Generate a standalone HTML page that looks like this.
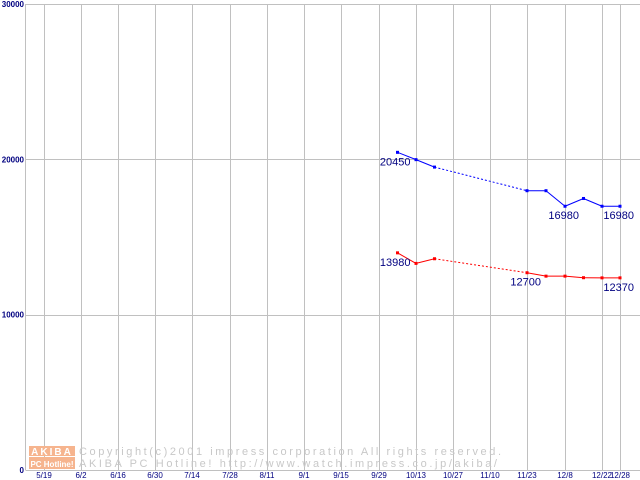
<!DOCTYPE html>
<html><head><meta charset="utf-8"><style>
body{margin:0;background:#fff;}
svg{display:block;}
text{font-family:"Liberation Sans",sans-serif;}
</style></head><body>
<svg id="chart" width="640" height="480" viewBox="0 0 640 480">
<g id="grid"></g>
<g id="wm">
  <rect x="29" y="446" width="46" height="10" fill="#f6b48e"/>
  <rect x="29" y="457" width="46" height="12" fill="#f6b48e"/>
  <text x="52" y="455" font-size="10" fill="#fff" text-anchor="middle" font-weight="bold" letter-spacing="2">AKIBA</text>
  <text x="52" y="467" font-size="8" fill="#fff" text-anchor="middle" font-weight="bold">PC Hotline!</text>
  <text x="79" y="455" font-size="11" fill="#c8c8c8" font-family="Liberation Mono, monospace" textLength="422">Copyright(c)2001 impress corporation All rights reserved.</text>
  <text x="79" y="467" font-size="11" fill="#c8c8c8" font-family="Liberation Mono, monospace" textLength="418">AKIBA PC Hotline!  http://www.watch.impress.co.jp/akiba/</text>
</g>
<g id="axes"></g>
<g id="series"></g>
</svg>
<script>
const xLabels=["5/19","6/2","6/16","6/30","7/14","7/28","8/11","9/1","9/15","9/29","10/13","10/27","11/10","11/23","12/8","12/22","12/28"];
const yTicks=[0,10000,20000,30000];
const blueIdx=[9.5,10,10.5,13,13.5,14,14.5,15,16];
const blueVals=[20450,19980,19500,17980,17980,16980,17480,16980,16980];
const redVals=[13980,13300,13600,12700,12480,12480,12380,12370,12370];
const blueLabels=[[0,"20450"],[5,"16980"],[8,"16980"]];
const redLabels=[[0,"13980"],[3,"12700"],[8,"12370"]];
const NS="http://www.w3.org/2000/svg";
const linePos=[44,81,118,155,192,230,267,304,341,379,416,453,490,527,565,602,620];
function X(i){const f=Math.floor(i);if(f>=linePos.length-1)return linePos[linePos.length-1];return linePos[f]+(i-f)*(linePos[f+1]-linePos[f]);}
function Y(v){return 470-v*466/30000;}
function mk(t,a,p){const e=document.createElementNS(NS,t);for(const k in a)e.setAttribute(k,a[k]);p.appendChild(e);return e;}
const grid=document.getElementById('grid'),axes=document.getElementById('axes'),ser=document.getElementById('series');
yTicks.forEach(v=>{
  const l=mk('line',{x1:25.5,x2:640,y1:Math.round(Y(v))+0.5,y2:Math.round(Y(v))+0.5,stroke:'#c0c0c0'},grid);
  
  
  const t=mk('text',{x:24,y:Y(v)+3,'font-size':8,fill:'#000080','text-anchor':'end','font-family':'Liberation Mono, monospace','font-weight':'bold'},axes);
  t.textContent=String(v);
  
  
});
mk('line',{x1:25.5,x2:25.5,y1:4,y2:470,stroke:'#c0c0c0'},grid);
xLabels.forEach((s,i)=>{
  const x=X(i);
  const l=mk('line',{x1:x+0.5,x2:x+0.5,y1:4,y2:470,stroke:'#c0c0c0'},grid);
  
  
  const t=mk('text',{x:x,y:478,'font-size':8,fill:'#000080','text-anchor':'middle','font-family':'Liberation Mono, monospace'},axes);
  t.textContent=s;
  
  
});
function drawSeries(vals,color,labels,name){
  for(let i=0;i<vals.length-1;i++){
    const a={x1:X(blueIdx[i]),y1:Y(vals[i]),x2:X(blueIdx[i+1]),y2:Y(vals[i+1]),stroke:color,'stroke-width':1};
    if(i===2)a['stroke-dasharray']='2,2';
    const l=mk('line',a,ser);
    
    
  }
  vals.forEach((v,i)=>{
    const r=mk('rect',{x:X(blueIdx[i])-1.5,y:Y(v)-1.5,width:3,height:3,fill:color},ser);
    
    
  });
  labels.forEach(([i,s])=>{
    const x=X(blueIdx[i]),y=Y(vals[i]);
    const t=mk('text',{x:x+14,y:y+13,'font-size':11,fill:'#000080','text-anchor':'end'},ser);
    if(i===0){t.setAttribute('x',x+13);}
    t.textContent=s;
    
    
  });
}
drawSeries(blueVals,'#0000ff',blueLabels,'blue-series');
drawSeries(redVals,'#ff0000',redLabels,'red-series');
</script>
</body></html>
